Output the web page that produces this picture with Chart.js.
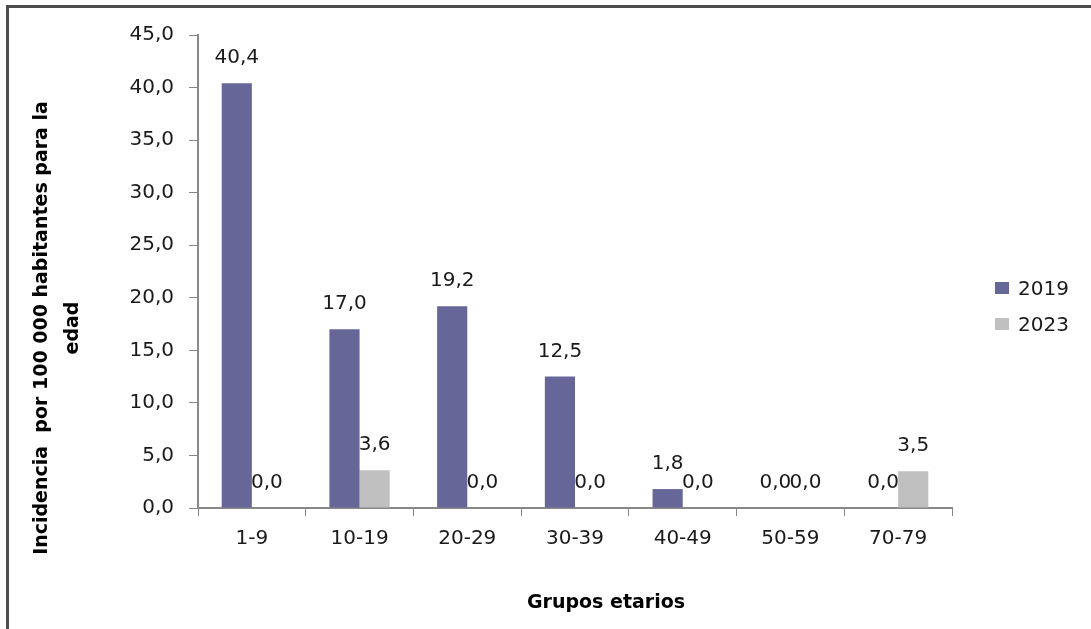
<!DOCTYPE html>
<html>
<head>
<meta charset="utf-8">
<script src="https://cdn.jsdelivr.net/npm/chart.js@4.4.1/dist/chart.umd.min.js"></script>
<style>
  body { margin: 0; background: #fff; overflow: hidden; }
  #wrap { position: relative; width: 1091px; height: 629px; }
  #frame { position: absolute; left: 6px; top: 5px; width: 1200px; height: 800px; border: 3px solid #4d4d4d; box-sizing: border-box; }
  canvas { position: absolute; left: 0; top: 0; }
  .leg { position: absolute; left: 995px; font: 20px "DejaVu Sans", sans-serif; color: #1a1a1a; }
  .leg span { display: inline-block; width: 14px; height: 12px; margin-right: 9px; vertical-align: 1px; }
</style>
</head>
<body>
<div id="wrap">
  <div id="frame"></div>
  <canvas id="myChart" width="1091" height="629"></canvas>
  <div class="leg" id="leg" style="top:276px"></div>
</div>
<script>
const ageGroups = ['1-9', '10-19', '20-29', '30-39', '40-49', '50-59', '70-79'];
const values2019 = [40.4, 17.0, 19.2, 12.5, 1.8, 0.0, 0.0];
const values2023 = [0.0, 3.6, 0.0, 0.0, 0.0, 0.0, 3.5];
const seriesNames = ['2019', '2023'];
const seriesColors = ['#666699', '#c0c0c0'];

const yTitle = ['Incidencia  por 100 000 habitantes para la', 'edad'];
const xTitle = 'Grupos etarios';

const fmt = (v) => v.toFixed(1).replace('.', ',');

// value labels above each bar
const barLabels = {
    id: 'barLabels',
    afterDatasetsDraw(chart) {
        const ctx = chart.ctx;
        ctx.save();
        ctx.font = '20px "DejaVu Sans", sans-serif';
        ctx.fillStyle = '#1a1a1a';
        ctx.textAlign = 'center';
        ctx.textBaseline = 'alphabetic';
        chart.data.datasets.forEach((ds, i) => {
            chart.getDatasetMeta(i).data.forEach((bar, j) => {
                ctx.fillText(fmt(ds.data[j]), bar.x, bar.y - 20);
            });
        });
        ctx.restore();
    }
};

// axis titles
const axisTitles = {
    id: 'axisTitles',
    afterDraw(chart) {
        const ctx = chart.ctx;
        ctx.save();
        ctx.fillStyle = '#000';
        ctx.font = 'bold 19px "DejaVu Sans", sans-serif';
        ctx.textAlign = 'center';
        ctx.textBaseline = 'alphabetic';
        ctx.fillText(xTitle, 606, 608);

        ctx.translate(0, 328);
        ctx.rotate(-Math.PI / 2);
        ctx.fillText(yTitle[0], 0, 47);
        ctx.fillText(yTitle[1], 0, 78);
        ctx.restore();
    }
};

const ctx = document.getElementById('myChart');
const config = {
    type: 'bar',
    data: {
        labels: ageGroups,
        datasets: [
            { label: seriesNames[0], data: values2019, backgroundColor: seriesColors[0] },
            { label: seriesNames[1], data: values2023, backgroundColor: seriesColors[1] }
        ]
    },
    options: {
        responsive: false,
        animation: false,
        layout: { padding: { top: 35, right: 139, bottom: 0, left: 0 } },
        datasets: { bar: { categoryPercentage: 0.56, barPercentage: 1.0 } },
        plugins: { legend: { display: false }, tooltip: { enabled: false } },
        scales: {
            x: {
                afterFit: (scale) => { scale.height = 121; },
                grid: { drawOnChartArea: false, drawTicks: true, tickLength: 8, color: '#888', offset: true },
                border: { color: '#888', width: 2 },
                ticks: { font: { family: 'DejaVu Sans', size: 20 }, color: '#1a1a1a', padding: 11 }
            },
            y: {
                min: 0,
                max: 45,
                afterFit: (scale) => { scale.width = 198; },
                grid: { drawOnChartArea: false, drawTicks: true, tickLength: 9, color: '#888' },
                border: { color: '#888', width: 2 },
                ticks: {
                    stepSize: 5,
                    font: { family: 'DejaVu Sans', size: 20 },
                    color: '#1a1a1a',
                    padding: 15,
                    callback: (v) => fmt(v)
                }
            }
        }
    },
    plugins: [barLabels, axisTitles]
};

new Chart(ctx, config);

// legend
const leg = document.getElementById('leg');
leg.innerHTML = seriesNames.map((n, i) =>
    '<div style="height:36px"><span style="background:' + seriesColors[i] + '"></span>' + n + '</div>'
).join('');
</script>
</body>
</html>
